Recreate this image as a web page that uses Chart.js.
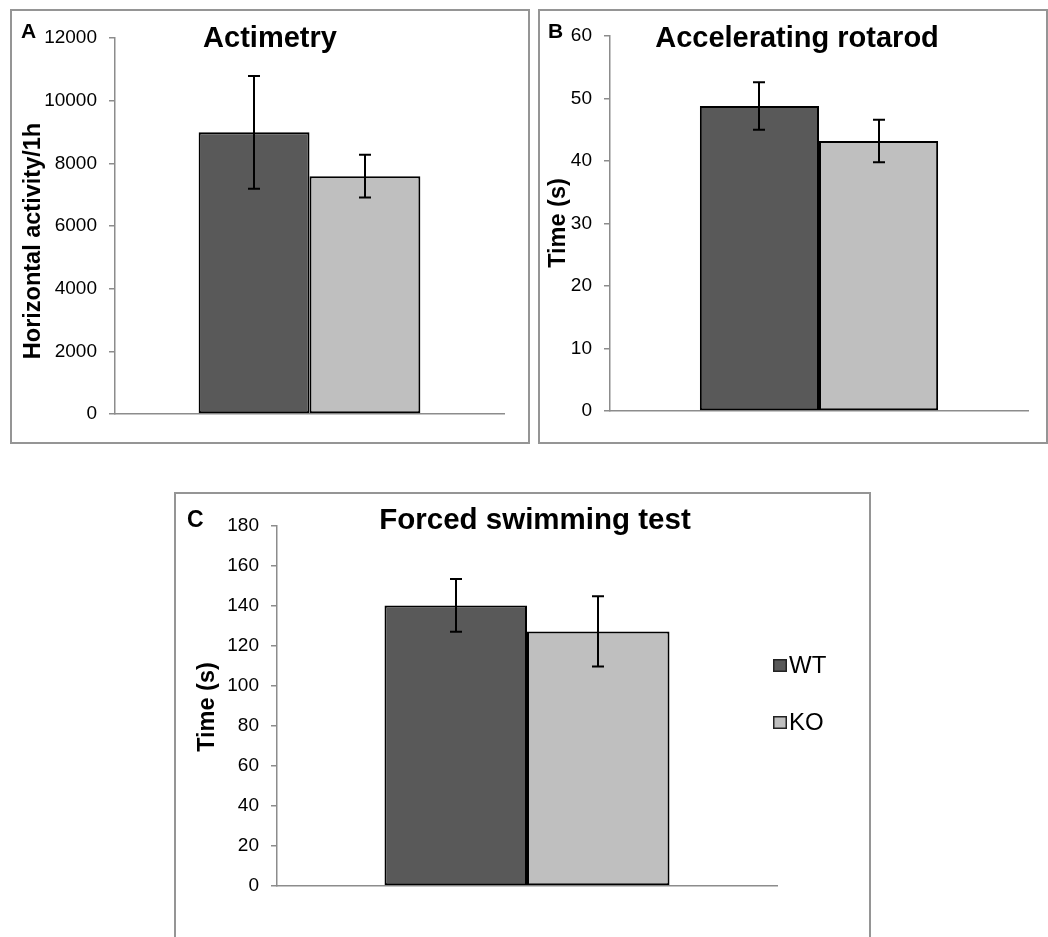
<!DOCTYPE html>
<html><head><meta charset="utf-8">
<script src="https://cdn.jsdelivr.net/npm/chart.js@4/dist/chart.umd.min.js"></script>
<style>
html,body{margin:0;padding:0;background:#fff;}
body{width:1048px;height:937px;position:relative;overflow:hidden;}
.panel{position:absolute;box-sizing:border-box;border:2px solid #959595;}
canvas{position:absolute;}
</style></head><body>
<div class="panel" style="left:10px;top:9px;width:520px;height:435px"></div>
<div class="panel" style="left:538px;top:9px;width:510px;height:435px"></div>
<div class="panel" style="left:174px;top:492px;width:697px;height:460px"></div>
<canvas id="cA" width="518" height="432" style="left:11px;top:10px"></canvas>
<canvas id="cB" width="508" height="432" style="left:539px;top:10px"></canvas>
<canvas id="cC" width="693" height="443" style="left:176px;top:494px"></canvas>
<script>
// ---- data ----
const groups = ['WT', 'KO'];
const categories = [''];
const actimetryMean = [8990, 7590];
const actimetryErr = [1800, 680];
const rotarodMean = [48.8, 43.2];
const rotarodErr = [3.8, 3.4];
const swimMean = [140.3, 127.3];
const swimErr = [13.2, 17.6];
const ticksA = [0, 2000, 4000, 6000, 8000, 10000, 12000];
const ticksB = [0, 10, 20, 30, 40, 50, 60];
const ticksC = [0, 20, 40, 60, 80, 100, 120, 140, 160, 180];
const groupColors = ['#595959', '#bfbfbf'];

const FAM = "'Liberation Sans', Arial, sans-serif";
Chart.defaults.font.family = FAM;

const errorBars = {
  id: 'errorBars',
  afterDatasetsDraw(chart, args, opts) {
    const ctx = chart.ctx, ys = chart.scales.y;
    ctx.save();
    ctx.strokeStyle = '#000';
    ctx.lineWidth = 2;
    chart.data.datasets.forEach((ds, i) => {
      const meta = chart.getDatasetMeta(i);
      const e = opts.errors[i];
      meta.data.forEach((bar, j) => {
        const m = ds.data[j];
        const x = Math.round(bar.x);
        const yt = ys.getPixelForValue(m + e), yb = ys.getPixelForValue(m - e);
        ctx.beginPath();
        ctx.moveTo(x, yt); ctx.lineTo(x, yb);
        ctx.moveTo(x - 6, yt); ctx.lineTo(x + 6, yt);
        ctx.moveTo(x - 6, yb); ctx.lineTo(x + 6, yb);
        ctx.stroke();
      });
    });
    ctx.restore();
  }
};

const panelText = {
  id: 'panelText',
  afterDraw(chart, args, o) {
    const ctx = chart.ctx;
    ctx.save();
    ctx.fillStyle = '#000';
    ctx.textBaseline = 'alphabetic';
    ctx.textAlign = 'left';
    ctx.font = 'bold ' + o.letter.size + 'px ' + FAM;
    ctx.fillText(o.letter.t, o.letter.x, o.letter.y);
    ctx.textAlign = 'center';
    ctx.font = 'bold ' + o.title.size + 'px ' + FAM;
    ctx.fillText(o.title.t, o.title.x, o.title.y);
    ctx.save();
    ctx.translate(o.ytitle.x, o.ytitle.y);
    ctx.rotate(-Math.PI / 2);
    ctx.textBaseline = 'middle';
    ctx.font = 'bold ' + o.ytitle.size + 'px ' + FAM;
    ctx.fillText(o.ytitle.t, 0, 0);
    ctx.restore();
    if (o.legend) {
      const L = o.legend;
      chart.data.datasets.forEach((ds, i) => {
        const y = L.y + i * L.gap;
        ctx.fillStyle = ds.backgroundColor;
        ctx.fillRect(L.x, y, 14, 13);
        ctx.strokeStyle = '#222';
        ctx.lineWidth = 1.5;
        ctx.strokeRect(L.x + 0.75, y + 0.75, 12.5, 11.5);
        ctx.fillStyle = '#000';
        ctx.textAlign = 'left';
        ctx.textBaseline = 'middle';
        ctx.font = L.size + 'px ' + FAM;
        ctx.fillText(ds.label, L.x + 16, y + 7);
      });
    }
    ctx.restore();
  }
};

function makeChart(id, means, errs, ticks, box, texts) {
  const cv = document.getElementById(id);
  return new Chart(cv, {
    type: 'bar',
    data: {
      labels: categories,
      datasets: groups.map((g, i) => ({
        label: g,
        data: [means[i]],
        backgroundColor: groupColors[i],
        borderColor: '#000',
        borderWidth: 2,
        borderSkipped: false,
        categoryPercentage: 0.57,
        barPercentage: 1.0
      }))
    },
    options: {
      responsive: false,
      animation: false,
      events: [],
      layout: { padding: { left: 0, right: cv.width - box.r, top: box.t, bottom: cv.height - box.b - 1 } },
      plugins: {
        legend: { display: false },
        tooltip: { enabled: false },
        title: { display: false },
        errorBars: { errors: errs },
        panelText: texts
      },
      scales: {
        x: {
          grid: { display: false, drawTicks: false },
          border: { display: true, color: '#8c8c8c', width: 1.5 },
          ticks: { display: false },
          afterFit(s) { s.height = 1; }
        },
        y: {
          min: ticks[0],
          max: ticks[ticks.length - 1],
          afterBuildTicks(s) { s.ticks = ticks.map(v => ({ value: v })); },
          grid: { drawOnChartArea: false, drawTicks: true, tickLength: 6, color: '#8c8c8c', lineWidth: 1.5 },
          border: { display: true, color: '#8c8c8c', width: 1.5 },
          ticks: { color: '#000', font: { size: 19 }, padding: 12, callback: v => String(v) },
          afterFit(s) { s.width = box.l; }
        }
      }
    },
    plugins: [errorBars, panelText]
  });
}

makeChart('cA', actimetryMean, actimetryErr, ticksA, { l: 104, r: 493, t: 28, b: 404 }, {
  letter: { t: 'A', x: 10, y: 28, size: 21 },
  title: { t: 'Actimetry', x: 259, y: 37, size: 29 },
  ytitle: { t: 'Horizontal activity/1h', x: 23, y: 231, size: 23.5 }
});
makeChart('cB', rotarodMean, rotarodErr, ticksB, { l: 71, r: 489, t: 26, b: 401 }, {
  letter: { t: 'B', x: 9, y: 28, size: 21 },
  title: { t: 'Accelerating rotarod', x: 258, y: 37, size: 29 },
  ytitle: { t: 'Time (s)', x: 20, y: 213, size: 23.5 }
});
makeChart('cC', swimMean, swimErr, ticksC, { l: 101, r: 601, t: 32, b: 392 }, {
  letter: { t: 'C', x: 11, y: 33, size: 23 },
  title: { t: 'Forced swimming test', x: 359, y: 35, size: 29.5 },
  ytitle: { t: 'Time (s)', x: 32, y: 213, size: 23.5 },
  legend: { x: 597, y: 165, gap: 57, size: 24 }
});
</script>
</body></html>
